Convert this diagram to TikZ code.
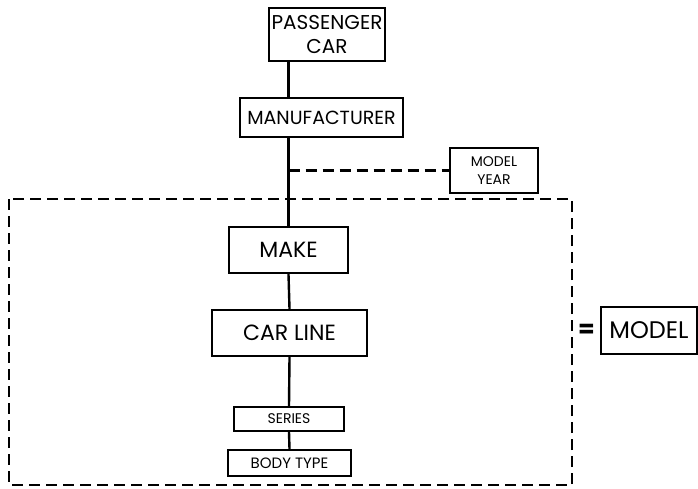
\documentclass[tikz,border=0pt]{standalone}
\usepackage{fontspec}
\setmainfont{Poppins}
\usepackage{tikz}

\tikzset{
  unit/.style={draw, line width=2.4pt, inner sep=0pt, align=center},
  link/.style={line width=2.4pt},
  grp/.style={line width=2.6pt, dash pattern=on 11pt off 6pt},
}

\begin{document}
\begin{tikzpicture}[x=1pt,y=-1pt]
  \useasboundingbox (0,0) rectangle (698,489);
  \node[unit, minimum width=116pt, minimum height=53pt, font=\fontsize{20}{24}\selectfont] at (327,34.5) (pc) {PASSENGER\\CAR};
  \node[unit, minimum width=163pt, minimum height=39pt, font=\fontsize{19}{24}\selectfont] at (321.5,117.5) (mfr) {MANUFACTURER};
  \node[unit, minimum width=88pt, minimum height=45pt, font=\fontsize{14}{18}\selectfont] at (494,170.5) (my) {MODEL\\YEAR};
  \node[unit, minimum width=119pt, minimum height=46pt, font=\fontsize{22}{24}\selectfont] at (288.5,250) (make) {MAKE};
  \node[unit, minimum width=155pt, minimum height=46pt, font=\fontsize{22}{24}\selectfont] at (289.5,333) (cl) {CAR LINE};
  \node[unit, minimum width=110pt, minimum height=24pt, font=\fontsize{14}{15}\selectfont] at (289,419) (ser) {SERIES};
  \node[unit, minimum width=123pt, minimum height=26pt, font=\fontsize{15}{16}\selectfont] at (289.5,463) (bt) {BODY TYPE};
  \node[unit, minimum width=96pt, minimum height=47pt, font=\fontsize{24}{26}\selectfont] at (649,330.5) (mod) {MODEL};
  \draw[grp] (9,199) rectangle (572,485);
  \node[font=\bfseries\fontsize{24}{26}\selectfont, inner sep=0pt] at (586.5,330.5) (eq) {=};
  % spine
  \draw[link] (make.north |- pc.south) -- (make.north |- mfr.north);
  \draw[link] (make.north |- mfr.south) -- (make.north);
  \draw[link] (make.south) -- (cl.north);
  \draw[link] (cl.south) -- (ser.north);
  \draw[link] (ser.south) -- (bt.north);
  \draw[grp] (make.north |- my.west) -- (my.west);
\end{tikzpicture}
\end{document}
